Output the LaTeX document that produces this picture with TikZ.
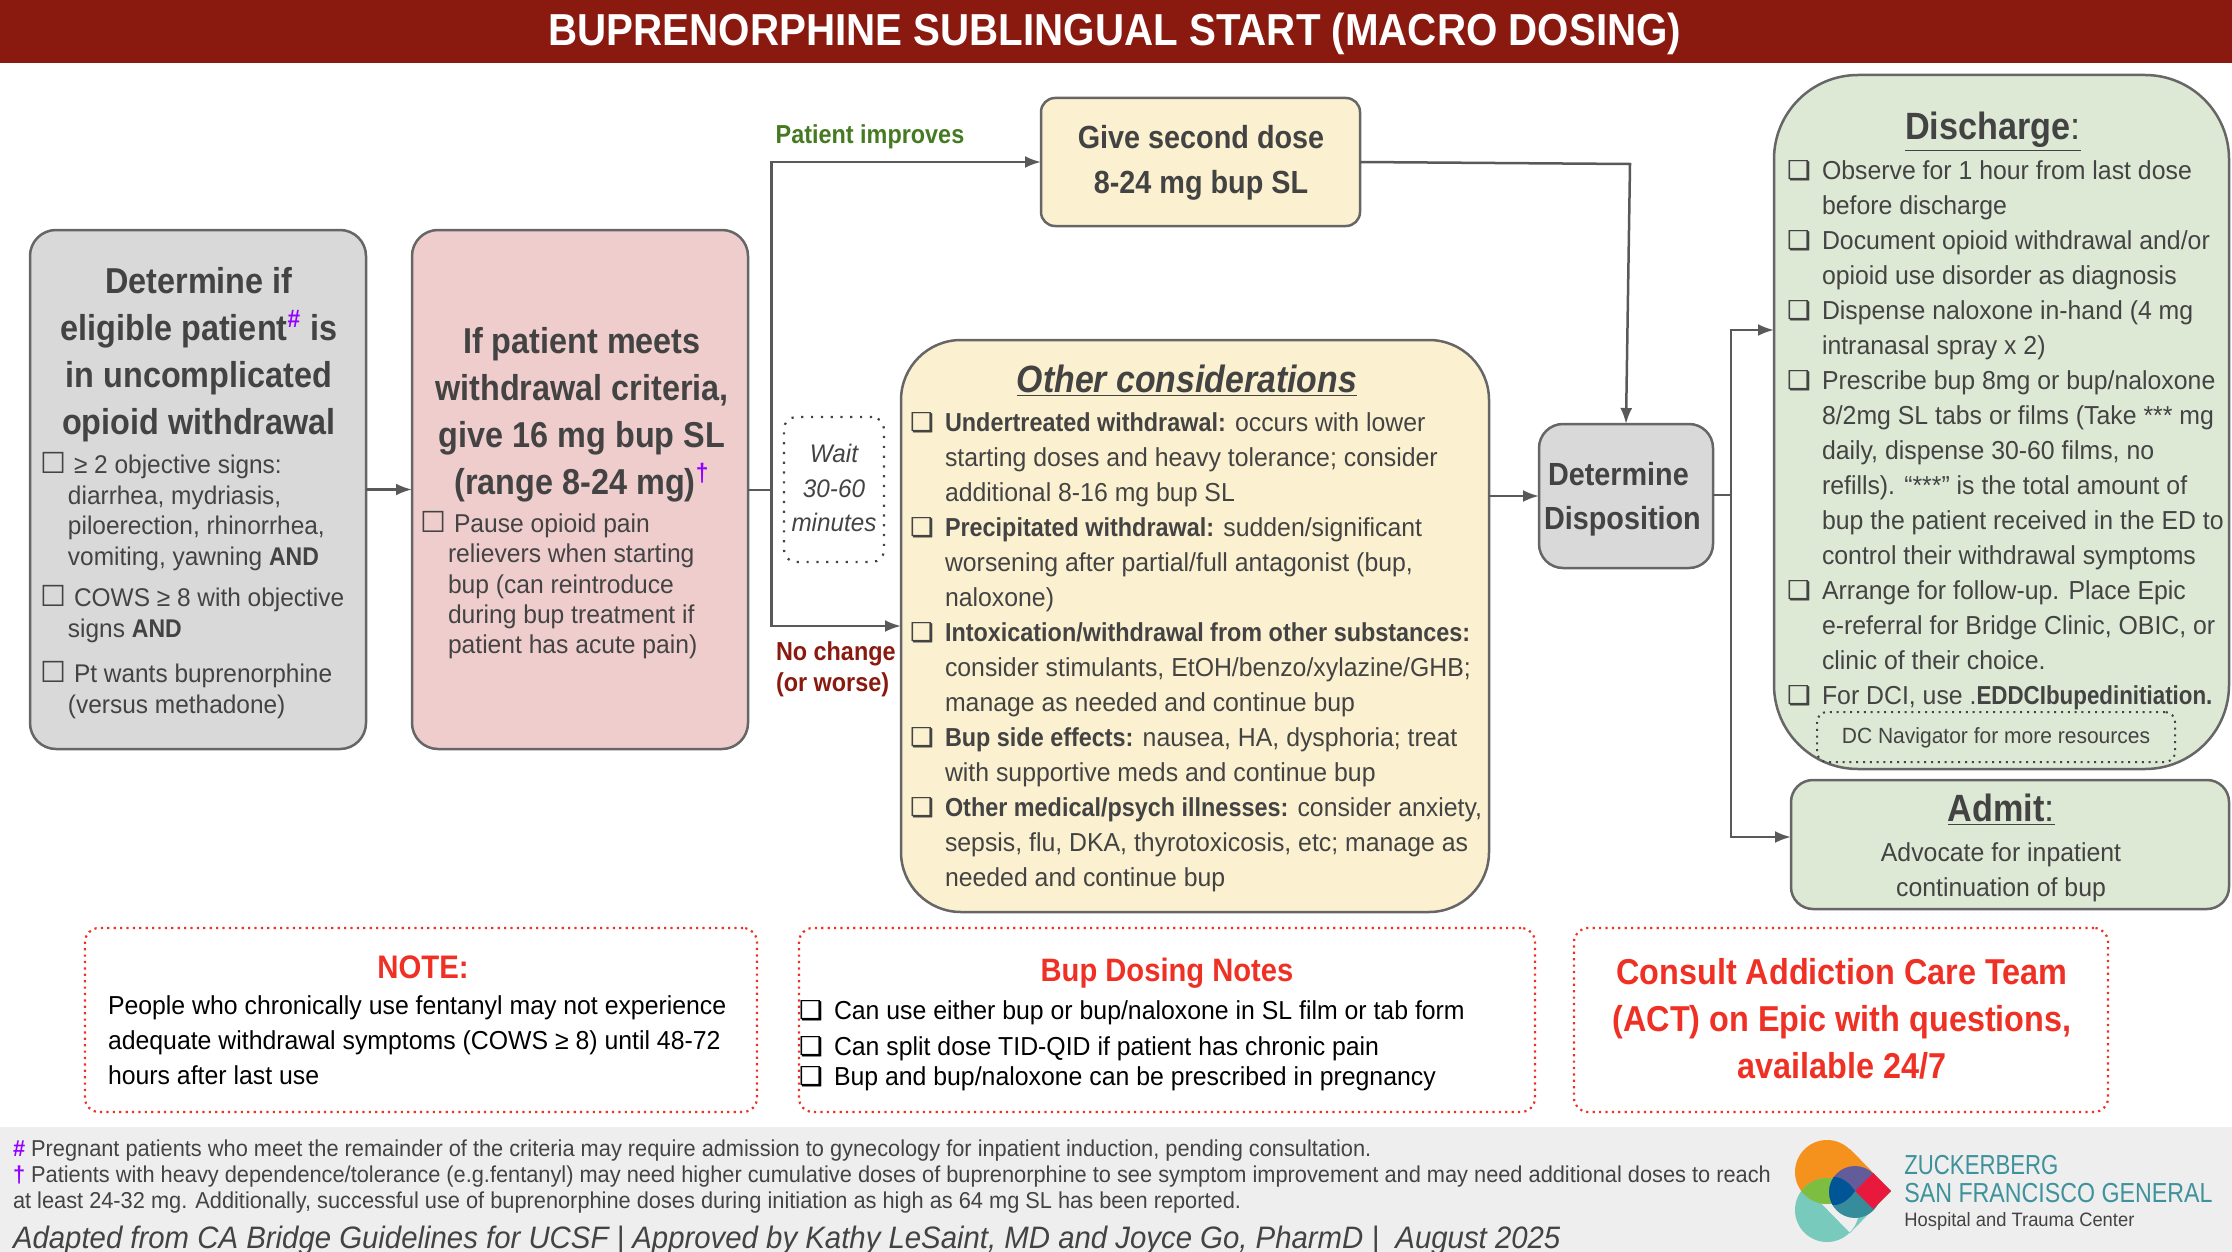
\documentclass[tikz,border=0pt]{standalone}
\usepackage{fontspec}
\usepackage{graphicx}
\setmainfont{Liberation Sans}[FakeStretch=0.955,BoldFeatures={FakeStretch=0.9},BoldItalicFeatures={FakeStretch=0.89}]
\newfontfamily\symf{DejaVu Sans}
\newfontfamily\condf{Liberation Sans}[FakeStretch=0.947]
\usetikzlibrary{arrows.meta}
\definecolor{txtc}{HTML}{434343}
\definecolor{linec}{HTML}{666666}
\definecolor{arrc}{HTML}{595959}
\definecolor{hdr}{HTML}{8A1A10}
\definecolor{grayf}{HTML}{D9D9D9}
\definecolor{pinkf}{HTML}{EFCDCD}
\definecolor{yelf}{HTML}{FBF0CF}
\definecolor{grnf}{HTML}{DDE8D5}
\definecolor{redt}{HTML}{EE3124}
\definecolor{grnt}{HTML}{457A22}
\definecolor{drt}{HTML}{8A1A10}
\definecolor{purp}{HTML}{9400FF}
\definecolor{foot}{HTML}{EEEEEE}
\definecolor{ltealt}{HTML}{3E929B}
\newcommand\fsz[2]{\fontsize{#1}{#2}\selectfont}
\newcommand\hb{\llap{{\symf\rlap{\char"274F}\hspace{0.35pt}\char"274F}\hspace{5.5pt}}}
\newcommand\nb{\llap{{\symf\fontsize{14.5}{11}\selectfont\char"2610}\hspace{0.6pt}}}
\newcommand\sups[1]{\textsuperscript{\textcolor{purp}{#1}}}
\tikzset{
  box/.style={draw=linec,line width=1.25pt,inner sep=0pt,outer sep=0pt},
  redbox/.style={draw=redt,line width=1.1pt,dash pattern=on 1.1pt off 2.1pt,rounded corners=7pt,inner sep=0pt},
  txt/.style={inner sep=0pt,outer sep=0pt,text=txtc,align=left,anchor=north west},
  ctr/.style={inner sep=0pt,outer sep=0pt,text=txtc,align=center},
  conn/.style={draw=arrc,line width=1.25pt},
  arr/.style={conn,-{Latex[length=8pt,width=6pt]}},
}
\begin{document}
\begin{tikzpicture}[x=0.5pt,y=-0.5pt]
\useasboundingbox (0,0) rectangle (2232,1252);
% bands
\fill[hdr] (0,0) rectangle (2232,63);
\fill[foot] (0,1127) rectangle (2232,1252);
\node[ctr,text=white,font=\bfseries\fsz{22.4}{26}] (title) at (1115,34) {BUPRENORPHINE SUBLINGUAL START (MACRO DOSING)};
% boxes
\node[box,fill=grayf,rounded corners=13pt,minimum width=168pt,minimum height=259.5pt] (gray) at (198,489.5) {};
\node[box,fill=pinkf,rounded corners=13pt,minimum width=168pt,minimum height=259.5pt] (pink) at (580,489.5) {};
\node[box,fill=yelf,rounded corners=7pt,minimum width=159.5pt,minimum height=64pt] (second) at (1200.5,162) {};
\node[box,fill=yelf,rounded corners=30pt,minimum width=294pt,minimum height=286pt] (other) at (1195,626) {};
\node[box,fill=grayf,rounded corners=12pt,minimum width=87pt,minimum height=72pt] (disp) at (1626,496) {};
\node[box,fill=grnf,rounded corners=42pt,minimum width=227.5pt,minimum height=347pt] (discharge) at (2001.5,422) {};
\node[box,fill=grnf,rounded corners=11pt,minimum width=219pt,minimum height=64.5pt] (admit) at (2010,844.5) {};
\node[draw=txtc,line width=1.1pt,dash pattern=on 1.1pt off 3.8pt,rounded corners=6pt,inner sep=0pt,minimum width=50pt,minimum height=72.5pt] (wait) at (834,489.5) {};
\node[redbox,minimum width=336pt,minimum height=92pt] (note) at (421,1020) {};
\node[redbox,minimum width=368pt,minimum height=92pt] (dosing) at (1167,1020) {};
\node[redbox,minimum width=267pt,minimum height=92pt] (consult) at (1841,1020) {};
\node[draw=txtc,line width=1pt,dash pattern=on 1pt off 2.4pt,rounded corners=5pt,inner sep=0pt,minimum width=179pt,minimum height=25pt] (dcbox) at (1996,737) {};
% connectors
\coordinate (jn) at (771.5,490);
\coordinate (jd) at (1731,495);
\coordinate (kink) at (1630,164);
\coordinate (dischin) at (1774,330);
\coordinate (admitin) at (1791,837);
\draw[arr] (gray) -- (pink);
\draw[conn] (pink.east |- jn) -- (jn);
\draw[arr] (jn) |- (second.west);
\draw[arr] (jn) |- (other.west);
\draw[arr] (second.east) -- (kink) -- (disp.north);
\draw[arr] (other.east |- disp.west) -- (disp.west);
\draw[conn] (disp.east |- jd) -- (jd);
\draw[arr] (jd) |- (dischin);
\draw[arr] (jd) |- (admitin);
% gray text
\node[ctr,font=\bfseries\fsz{18}{23.5}] (grayt) at (199,354.5) {Determine if\\eligible patient\sups{\#} is\\in uncomplicated\\opioid withdrawal};
\node[txt,font=\fsz{12.8}{15.3}] (g1) at (68,452) {\strut\nb\hspace{3pt}≥ 2 objective signs:\\diarrhea, mydriasis,\\piloerection, rhinorrhea,\\vomiting, yawning \textbf{AND}};
\node[txt,font=\fsz{12.8}{15.3}] (g2) at (68,585) {\strut\nb\hspace{3pt}COWS ≥ 8 with objective\\signs \textbf{AND}};
\node[txt,font=\fsz{12.8}{15.3}] (g3) at (68,661) {\strut\nb\hspace{3pt}Pt wants buprenorphine\\(versus methadone)};
% pink text
\node[ctr,font=\bfseries\fsz{18}{23.5}] (pinkt) at (582,414.5) {If patient meets\\withdrawal criteria,\\give 16 mg bup SL\\(range 8-24 mg)\sups{†}};
\node[txt,font=\fsz{12.9}{15.2}] (p1) at (448,511) {\strut\nb\hspace{3pt}Pause opioid pain\\relievers when starting\\bup (can reintroduce\\during bup treatment if\\patient has acute pain)};
% second
\node[ctr,font=\bfseries\fsz{16}{22.5}] (secondt) at (1201,163) {Give second dose\\8-24 mg bup SL};
\node[inner sep=0pt,text=grnt,font=\bfseries\fsz{13}{15}] (imp) at (870,137) {Patient improves};
\node[txt,text=drt,font=\bfseries\fsz{13}{15.5}] (nochg) at (776,639) {\strut No change\\(or worse)};
\node[ctr,font=\itshape\fsz{12.7}{17.3}] (waitt) at (834,488) {Wait\\30-60\\minutes};
% other
\node[inner sep=0pt,text=txtc,font=\bfseries\itshape\fsz{19}{23}] (othert) at (1187,381) {\underline{Other considerations}};
\node[txt,font=\fsz{13}{17.5}] (otherb) at (945,407) {\strut\hb\textbf{Undertreated withdrawal:} occurs with lower\\
starting doses and heavy tolerance; consider\\
additional 8-16 mg bup SL\\
\hb\textbf{Precipitated withdrawal:} sudden/significant\\
worsening after partial/full antagonist (bup,\\
naloxone)\\
\hb\textbf{Intoxication/withdrawal from other substances:}\\
consider stimulants, EtOH/benzo/xylazine/GHB;\\
manage as needed and continue bup\\
\hb\textbf{Bup side effects:} nausea, HA, dysphoria; treat\\
with supportive meds and continue bup\\
\hb\textbf{Other medical/psych illnesses:} consider anxiety,\\
sepsis, flu, DKA, thyrotoxicosis, etc; manage as\\
needed and continue bup};
% disposition
\node[txt,font=\bfseries\fsz{16}{22}] (dispt) at (1544,455) {\strut\hspace{2pt}Determine\\Disposition};
% discharge
\node[inner sep=0pt,text=txtc,font=\fsz{19}{23}] (discht) at (1993,132) {\underline{\textbf{Discharge}:}};
\node[txt,font=\fsz{13}{17.5}] (dischb) at (1822,155) {\strut\hb Observe for 1 hour from last dose\\
before discharge\\
\hb Document opioid withdrawal and/or\\
opioid use disorder as diagnosis\\
\hb Dispense naloxone in-hand (4 mg\\
intranasal spray x 2)\\
\hb Prescribe bup 8mg or bup/naloxone\\
8/2mg SL tabs or films (Take *** mg\\
daily, dispense 30-60 films, no\\
refills). “***” is the total amount of\\
bup the patient received in the ED to\\
control their withdrawal symptoms\\
\hb Arrange for follow-up. Place Epic\\
e-referral for Bridge Clinic, OBIC, or\\
clinic of their choice.\\
\hb For DCI, use .\scalebox{0.955}[1]{\textbf{EDDCIbupedinitiation.}}};
\node[inner sep=0pt,text=txtc,font=\fsz{11}{13}] (dct) at (1996,738) {DC Navigator for more resources};
% admit
\node[inner sep=0pt,text=txtc,font=\fsz{19}{23}] (admitt) at (2001,810) {\underline{\textbf{Admit}:}};
\node[ctr,font=\fsz{13}{17.5}] (admitb) at (2001,872) {Advocate for inpatient\\continuation of bup};
% notes
\node[inner sep=0pt,text=redt,font=\bfseries\fsz{16.3}{18}] (notet) at (423,967) {NOTE:};
\node[txt,text=black,font=\fsz{13}{17.5}] (noteb) at (108,990) {\strut People who chronically use fentanyl may not experience\\adequate withdrawal symptoms (COWS ≥ 8) until 48-72\\hours after last use};
\node[inner sep=0pt,text=redt,font=\bfseries\fsz{16.2}{18}] (dosingt) at (1167,973) {Bup Dosing Notes};
\node[txt,text=black,font=\fsz{13}{18}] (dosingb) at (834,994) {\strut\hb Can use either bup or bup/naloxone in SL film or tab form\\\hb Can split dose TID-QID if patient has chronic pain\\[-3pt]\hb Bup and bup/naloxone can be prescribed in pregnancy};
\node[ctr,text=redt,font=\bfseries\fsz{18}{23.5}] (consultt) at (1842,1018.5) {Consult Addiction Care Team\\(ACT) on Epic with questions,\\available 24/7};
% footer
\node[txt,font=\condf\fsz{11.5}{13}] (foot) at (13,1138) {\strut\textcolor{purp}{\textbf{\#}} Pregnant patients who meet the remainder of the criteria may require admission to gynecology for inpatient induction, pending consultation.\\
\textcolor{purp}{\textbf{†}} Patients with heavy dependence/tolerance (e.g.fentanyl) may need higher cumulative doses of buprenorphine to see symptom improvement and may need additional doses to reach\\
at least 24-32 mg. Additionally, successful use of buprenorphine doses during initiation as high as 64 mg SL has been reported.};
\node[txt,font=\condf\itshape\fsz{15.5}{18}] (adapt) at (13,1223) {\strut Adapted from CA Bridge Guidelines for UCSF | Approved by Kathy LeSaint, MD and Joyce Go, PharmD |\ \ August 2025};
% logo
\begin{scope}
\path[fill={rgb,255:red,245;green,146;blue,30}] (1827,1172) circle (32) (1850,1149) -- (1891,1191) -- (1873,1209) -- (1805,1195) -- cycle;
\path[fill={rgb,255:red,120;green,202;blue,188}] (1827,1210) circle (32) (1850,1233) -- (1891,1191) -- (1873,1173) -- (1805,1187) -- cycle;
\begin{scope}
\clip (1827,1172) circle (32);
\fill[fill={rgb,255:red,125;green,190;blue,65}] (1827,1210) circle (32);
\end{scope}
\begin{scope}
\clip (1855,1192) circle (26);
\fill[fill={rgb,255:red,98;green,92;blue,155}] (1825,1160) rectangle (1885,1191);
\fill[fill={rgb,255:red,55;green,140;blue,155}] (1825,1191) rectangle (1885,1225);
\fill[fill={rgb,255:red,0;green,85;blue,150}] (1829,1177) .. controls (1842,1175) and (1850,1184) .. (1855,1191) .. controls (1850,1198) and (1842,1206) .. (1832,1205) -- (1825,1190) -- cycle;
\end{scope}
\fill[fill={rgb,255:red,232;green,25;blue,60}] (1855,1191) -- (1873,1173) -- (1891,1191) -- (1873,1209) -- cycle;
\end{scope}
\node[inner sep=0pt,anchor=west,text=ltealt] (z1) at (1904,1165) {\resizebox{77pt}{9.6pt}{ZUCKERBERG}};
\node[inner sep=0pt,anchor=west,text=ltealt] (z2) at (1904,1193) {\resizebox{154pt}{9.6pt}{SAN FRANCISCO GENERAL}};
\node[inner sep=0pt,anchor=west,text=txtc] (z3) at (1904,1221) {\resizebox{115pt}{!}{\condf Hospital and Trauma Center}};
\end{tikzpicture}
\end{document}
